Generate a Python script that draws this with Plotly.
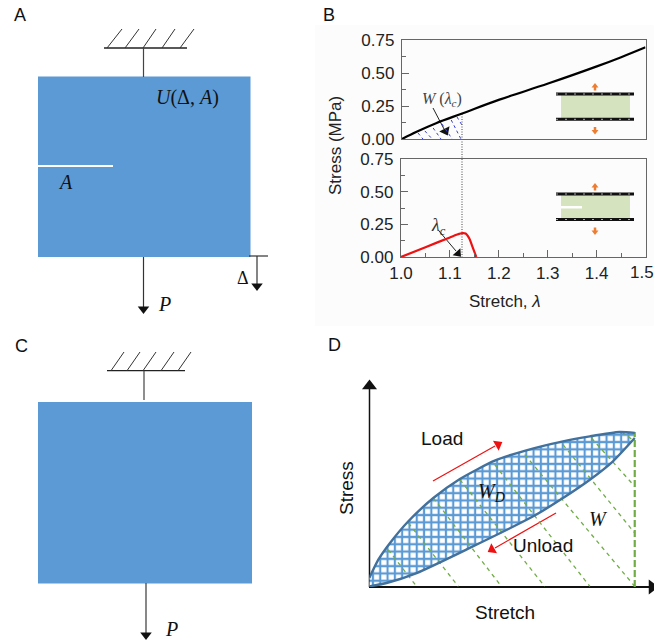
import plotly.graph_objects as go

W_PX, H_PX = 654, 643
SERIF = "Liberation Serif"
SANS = "Liberation Sans"
BLUE = "#5b9ad5"
GREEN = "#70ad47"
ORANGE = "#ed7d31"
LIGHT_GREEN = "#d5e3bf"

# Panel B, top: stress vs stretch of the uncracked sample
uncracked_stretch = [1.0, 1.03, 1.07, 1.125, 1.2, 1.3, 1.4, 1.45, 1.5]
uncracked_stress = [0.0, 0.055, 0.12, 0.195, 0.298, 0.42, 0.55, 0.62, 0.695]
# Panel B, bottom: stress vs stretch of the cracked sample
cracked_stretch = [1.0, 1.05, 1.10, 1.115, 1.125, 1.132, 1.14, 1.147, 1.154]
cracked_stress = [0.0, 0.075, 0.15, 0.172, 0.183, 0.18, 0.14, 0.07, 0.0]
# Panel B: hatching below the curve, W(lambda_c)
hatch_b_x = [(1.033, 1.043), (1.047, 1.062), (1.064, 1.080), (1.082, 1.103), (1.101, 1.121), (1.113, 1.123)]
hatch_b_y = [(0.045, 0.0), (0.061, 0.0), (0.083, 0.0), (0.114, 0.0), (0.144, 0.0), (0.167, 0.106)]
stress_ticks = [0.0, 0.25, 0.5, 0.75]
stress_labels = ["0.00", "0.25", "0.50", "0.75"]
stretch_ticks = [1.0, 1.1, 1.2, 1.3, 1.4, 1.5]
stretch_labels = ["1.0", "1.1", "1.2", "1.3", "1.4", "1.5"]

# Panel D: load / unload loop (relative units)
load_x = [0.0, 0.034, 0.078, 0.147, 0.241, 0.341, 0.472, 0.591, 0.729, 0.830, 0.942, 0.999]
load_y = [0.058, 0.176, 0.284, 0.424, 0.574, 0.697, 0.815, 0.882, 0.940, 0.972, 1.0, 0.994]
unload_x = [0.999, 0.917, 0.830, 0.729, 0.617, 0.378, 0.178, 0.065, 0.0]
unload_y = [0.961, 0.811, 0.692, 0.574, 0.456, 0.252, 0.090, 0.026, 0.004]
hatch_d_x = [(.071, .178), (.147, .335), (.241, .497), (.341, .660), (.472, .830), (.585, .999), (.729, .999), (.836, .999), (.949, .999)]
hatch_d_y = [(.241, .004), (.413, .004), (.574, .004), (.692, .004), (.789, .004), (.854, .004), (.918, .348), (.961, .649), (1.0, .940)]


def dom_x(a, b):
    return [a / W_PX, b / W_PX]


def dom_y(top, bottom):
    return [1 - bottom / H_PX, 1 - top / H_PX]


fig = go.Figure()
# pixel overlay = first subplot (lowest); data panels follow on top
PX = dict(xaxis="x", yaxis="y")
def seg(xs, ys, color="#333333", width=1.2, dash="solid"):
    fig.add_trace(go.Scatter(x=xs, y=ys, mode="lines", line=dict(color=color, width=width, dash=dash),
                             hoverinfo="skip", showlegend=False, **PX))
def head(x, y, symbol, color="#111111", size=10, angle=0):
    fig.add_trace(go.Scatter(x=[x], y=[y], mode="markers", cliponaxis=False,
                             marker=dict(symbol=symbol, color=color, size=size, angle=angle, line=dict(width=0)),
                             hoverinfo="skip", showlegend=False, **PX))

# --- Schematics on a pixel overlay
shapes = []
def rect(x0, y0, x1, y1, color, layer="below"):
    shapes.append(dict(type="rect", xref="x", yref="y", x0=x0, y0=y0, x1=x1, y1=y1,
                       fillcolor=color, line=dict(width=0), layer=layer))

rect(315, 25, 654, 326, "#fcfcfc")
rect(38, 76.5, 250.5, 257, BLUE)
rect(38, 402, 252, 583.5, BLUE)
rect(38, 165, 113, 167, "white")

for x_bar, y_bar, stem_x, stem_top, stem_bot, starts, ends, y_hatch in (
    ((104, 187), 48, 143.5, 48, 77, (107, 125, 143, 162, 180), (122, 139, 156, 175, 194), 29),
    ((107, 185), 370.7, 144, 370.7, 400, (111, 127, 143, 161, 178), (124, 140, 156, 174, 191), 352),
):
    seg(list(x_bar), [y_bar, y_bar], "#222222", 1.3)
    seg([stem_x, stem_x], [stem_top, stem_bot], "#444444", 1.2)
    for s, e in zip(starts, ends):
        seg([s, e], [y_bar, y_hatch], "#333333", 1)

seg([143.5, 143.5], [257, 308], "#333333", 1.2); head(143.5, 309, "triangle-down")
seg([249, 268], [256, 256], "#333333", 1.2)
seg([257, 257], [256, 285], "#333333", 1.2); head(257, 286, "triangle-down")
seg([146, 146], [583, 634], "#555555", 1.4); head(146, 635, "triangle-down")

# Panel B dotted guide and insets
seg([462, 462], [114, 257], "#444444", 1, "1px,1.5px")
for top, bottom, arrow_top, arrow_bot, crack in ((94, 119.3, 87.5, 130, False), (194, 219.5, 187.5, 230.5, True)):
    rect(561, top, 630, bottom, LIGHT_GREEN)
    for y in (top, bottom):
        seg([556, 634], [y, y], "#111111", 3)
        seg([556, 634], [y, y], "#aaaaaa", 1, "2px,7px")
    seg([595, 595], [arrow_top - 1, arrow_top + 3], ORANGE, 2.5); head(595, arrow_top - 1.5, "triangle-up", ORANGE, 6)
    seg([595, 595], [arrow_bot - 3, arrow_bot + 1], ORANGE, 2.5); head(595, arrow_bot + 1.5, "triangle-down", ORANGE, 6)
    if crack:
        rect(561, 206, 582, 208.5, "white")

# Panel D axes
seg([369.5, 369.5], [587, 388], "#111111", 1.5); head(369.5, 386, "triangle-up", "#111111", 13)
seg([369, 650], [587, 587], "#111111", 1.8); head(652, 587, "triangle-right", "#111111", 13)

# Annotation arrows (line + rotated head)
seg([433, 495], [481, 446], "#ee1111", 1.2); head(498, 444.5, "triangle-up", "#ee1111", 10, 60.5)
seg([556, 495], [513, 548], "#ee1111", 1.2); head(492, 549.5, "triangle-up", "#ee1111", 10, -119.8)
seg([433, 444], [108, 129], "#222222", 1); head(445.5, 131, "triangle-up", "#111111", 10, 153)
seg([439, 456], [231, 251], "#222222", 1); head(458, 253.5, "triangle-up", "#111111", 9, 138)

# --- Panel B curves
fig.add_trace(go.Scatter(x=uncracked_stretch, y=uncracked_stress, mode="lines", line=dict(color="#000000", width=2.2, shape="spline"),
                         showlegend=False, xaxis="x2", yaxis="y2"))
for xs, ys in zip(hatch_b_x, hatch_b_y):
    fig.add_trace(go.Scatter(x=list(xs), y=list(ys), mode="lines", line=dict(color="#3a3fd0", width=1, dash="dot"),
                             showlegend=False, xaxis="x2", yaxis="y2"))
fig.add_trace(go.Scatter(x=cracked_stretch, y=cracked_stress, mode="lines", line=dict(color="#ee1111", width=2.2, shape="spline", smoothing=0.5),
                         showlegend=False, xaxis="x3", yaxis="y3"))

# --- Panel D loop
fig.add_trace(go.Scatter(x=load_x + unload_x, y=load_y + unload_y, mode="none", fill="toself",
                         fillpattern=dict(shape="+", fgcolor=BLUE, bgcolor="white", size=7.3, solidity=0.5),
                         showlegend=False, xaxis="x4", yaxis="y4"))
for xs, ys in zip(hatch_d_x, hatch_d_y):
    fig.add_trace(go.Scatter(x=list(xs), y=list(ys), mode="lines", line=dict(color=GREEN, width=1.3, dash="4px,4px"),
                             showlegend=False, xaxis="x4", yaxis="y4"))
fig.add_trace(go.Scatter(x=[0.999, 0.999], y=[0.0, 1.0], mode="lines", line=dict(color=GREEN, width=2.2, dash="7px,3px"),
                         showlegend=False, xaxis="x4", yaxis="y4"))
for xs, ys in ((load_x, load_y), (unload_x, unload_y)):
    fig.add_trace(go.Scatter(x=xs, y=ys, mode="lines", line=dict(color="#41719c", width=2.4, shape="spline", smoothing=0.6),
                             showlegend=False, xaxis="x4", yaxis="y4"))

# --- Text
ann = []
def txt(x, y, text, size=17, family=SANS, color="#111111", angle=0):
    ann.append(dict(x=x, y=y, xref="x", yref="y", text=text, showarrow=False, textangle=angle,
                    font=dict(size=size, family=family, color=color), xanchor="center", yanchor="middle"))

txt(20, 15, "A", 18); txt(329, 15, "B", 18); txt(21, 346, "C", 18); txt(334, 345, "D", 18)
txt(187, 97, "<i>U</i>(Δ, <i>A</i>)", 20, SERIF)
txt(65, 182, "<i>A</i>", 20, SERIF)
txt(164, 304, "<i>P</i>", 20, SERIF)
txt(243, 278, "Δ", 18, SERIF)
txt(171, 629, "<i>P</i>", 20, SERIF)
txt(335, 146, "Stress (MPa)", 17, SANS, "#222222", -90)
txt(505, 301, "Stretch, <i>λ</i>", 17, SANS, "#222222")
txt(642, 272, "1.5", 17, SANS, "#222222")
txt(441.5, 99, "<i>W</i> (<i>λ<sub>c</sub></i>)", 16, SERIF, "#444444")
txt(438, 226, "<i>λ<sub>c</sub></i>", 18, SERIF, "#333333")
txt(442, 438, "Load", 19)
txt(543, 545, "Unload", 19)
txt(346, 488, "Stress", 19, SANS, "#111111", -90)
txt(505, 612, "Stretch", 19)
txt(491, 492, "<i>W<sub>D</sub></i>", 20, SERIF)
txt(598, 519, "<i>W</i>", 20, SERIF)

axis_common = dict(showgrid=False, zeroline=False, mirror=True, showline=True, linecolor="#666666", linewidth=1.4,
                   ticks="inside", tickcolor="#666666", ticklen=7, tickwidth=1)
font_ticks = dict(size=17, family=SANS, color="#222222")
minor_y = dict(dtick=0.125, ticks="inside", ticklen=4, tickcolor="#666666")
layout = dict(
    template="none",
    width=W_PX, height=H_PX, margin=dict(l=0, r=0, t=0, b=0, pad=0), paper_bgcolor="white", plot_bgcolor="rgba(0,0,0,0)",
    showlegend=False, shapes=shapes, annotations=ann, hovermode=False,
    xaxis=dict(domain=[0, 1], range=[0, W_PX], visible=False, anchor="y"),
    yaxis=dict(domain=[0, 1], range=[H_PX, 0], visible=False, anchor="x"),
    xaxis2=dict(domain=dom_x(402, 645.5), range=[1.0, 1.5], showticklabels=False, anchor="y2",
                **{**axis_common, "ticks": ""}),
    yaxis2=dict(domain=dom_y(40, 139), range=[0, 0.75], tickvals=stress_ticks, ticktext=stress_labels, ticklabelstandoff=3,
                tickfont=font_ticks, minor=minor_y, anchor="x2", **axis_common),
    xaxis3=dict(domain=dom_x(401, 645.5), range=[1.0, 1.5], tickvals=stretch_ticks[:-1], ticktext=stretch_labels[:-1],
                tickfont=font_ticks, minor=dict(dtick=0.05, ticks="inside", ticklen=4, tickcolor="#666666"), anchor="y3", **axis_common),
    yaxis3=dict(domain=dom_y(159, 257), range=[0, 0.75], tickvals=stress_ticks, ticktext=stress_labels, ticklabelstandoff=3,
                tickfont=font_ticks, minor=minor_y, anchor="x3", **axis_common),
    xaxis4=dict(domain=dom_x(369.3, 654), range=[0, 285 / 266], visible=False, anchor="y4"),
    yaxis4=dict(domain=dom_y(380, 587), range=[0, 207 / 155], visible=False, anchor="x4"),
)
fig.update_layout(**layout)
fig.write_html("out.html", config=dict(displayModeBar=False), post_script="document.body.style.margin='0';document.body.style.overflow='hidden';")
